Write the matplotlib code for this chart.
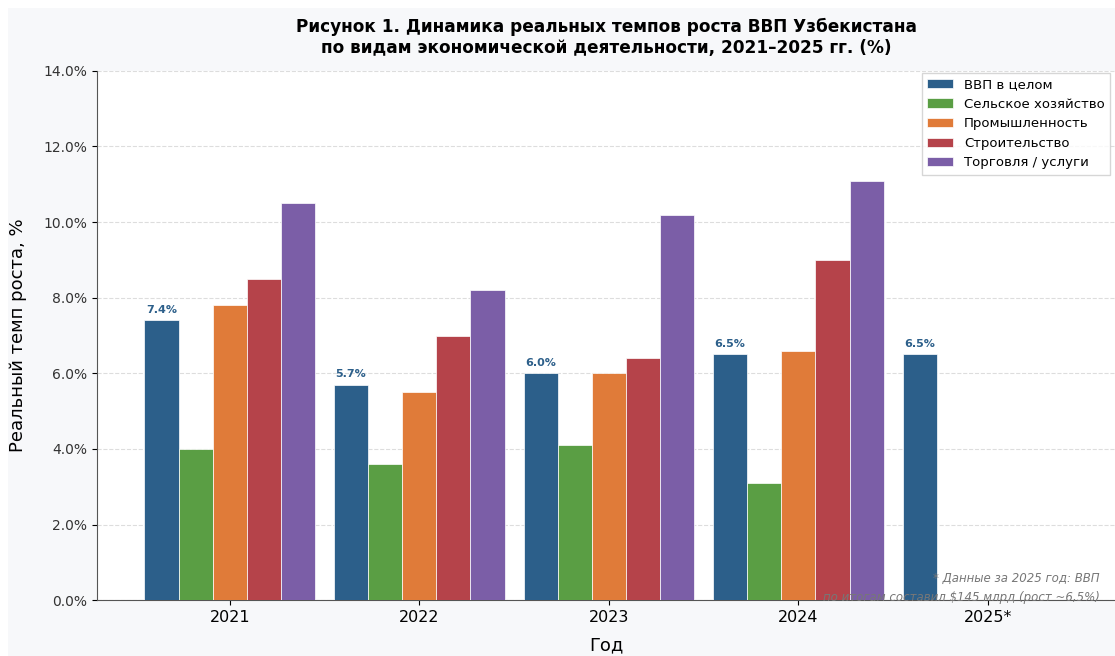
import matplotlib.pyplot as plt
from matplotlib.patches import Rectangle
import numpy as np

# Data
years = ['2021', '2022', '2023', '2024', '2025*']
series_names = ['ВВП в целом', 'Сельское хозяйство', 'Промышленность',
                'Строительство', 'Торговля / услуги']
gdp = [7.4, 5.7, 6.0, 6.5, 6.5]
agri = [4.0, 3.6, 4.1, 3.1]
industry = [7.8, 5.5, 6.0, 6.6]
construction = [8.5, 7.0, 6.4, 9.0]
trade = [10.5, 8.2, 10.2, 11.1]

colors = ['#2c5f8a', '#5a9e44', '#e07b39', '#b5434a', '#7b5ea7']
WIDTH = 0.18

fig = plt.figure(figsize=(11.15, 6.56), dpi=100, facecolor='white')
# light grey page area (the reference has a thin white margin top/left)
fig.patches.append(Rectangle((8 / 1115, 0), 1, 1 - 8 / 656,
                             transform=fig.transFigure, facecolor='#f7f8fa',
                             edgecolor='none', zorder=-10))
ax = fig.add_axes([0.087, 0.085, 0.913, 0.807])
ax.set_facecolor('white')

all_series = [gdp, agri, industry, construction, trade]
for j, (vals, name) in enumerate(zip(all_series, series_names)):
    x = np.arange(len(vals)) + (j - 2) * WIDTH
    bars = ax.bar(x, vals, WIDTH, color=colors[j], label=name,
                  edgecolor='white', linewidth=0.5, zorder=3)
    if j == 0:
        for b, v in zip(bars, vals):
            ax.text(b.get_x() + b.get_width() / 2, v + 0.15, f'{v:.1f}%',
                    ha='center', va='bottom', fontsize=8, fontweight='bold',
                    color=colors[0])

ax.set_xticks(np.arange(len(years)))
ax.set_xticklabels(years, fontsize=11.5)
ax.set_xlim(-0.70, 4.67)
ax.set_ylim(0, 14)
ax.set_yticks(np.arange(0, 15, 2))
ax.set_yticklabels([f'{v:.1f}%' for v in np.arange(0, 15, 2)], fontsize=10,
                   color='#333333')
ax.yaxis.grid(True, linestyle='--', color='#dddddd', linewidth=0.8, zorder=0)
ax.set_axisbelow(True)

for s in ['top', 'right']:
    ax.spines[s].set_visible(False)
ax.spines['left'].set_color('#555555')
ax.spines['bottom'].set_color('#555555')

ax.set_xlabel('Год', fontsize=13, labelpad=8)
ax.set_ylabel('Реальный темп роста, %', fontsize=13, labelpad=12)
ax.set_title('Рисунок 1. Динамика реальных темпов роста ВВП Узбекистана\n'
             'по видам экономической деятельности, 2021–2025 гг. (%)',
             fontsize=12.2, fontweight='bold', pad=13)

ax.legend(loc='upper right', fontsize=9.5, frameon=True, edgecolor='#cccccc',
          fancybox=False, handlelength=2.0, borderaxespad=0.3,
          bbox_to_anchor=(0.999, 1.004))

ax.text(0.985, -0.008, '* Данные за 2025 год: ВВП\nпо итогам составил $145 млрд (рост ~6,5%)',
        transform=ax.transAxes, ha='right', va='bottom', fontsize=8.5,
        style='italic', color='#777777', linespacing=1.7)

fig.savefig('out.png', dpi=100, facecolor=fig.get_facecolor())
